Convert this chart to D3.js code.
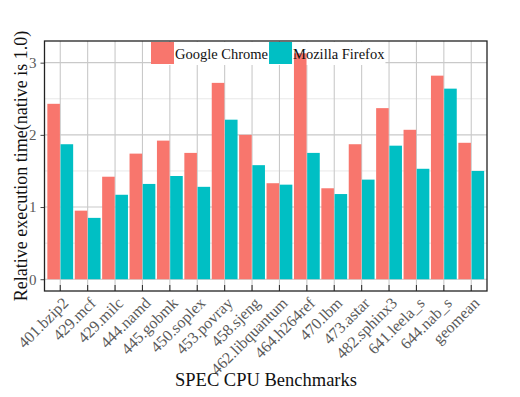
<!DOCTYPE html>
<html>
<head>
<meta charset="utf-8">
<script src="https://cdn.jsdelivr.net/npm/d3@7"></script>
<style>
  body { margin: 0; background: #fff; }
  svg text { font-family: "Liberation Serif", "DejaVu Serif", serif; }
</style>
</head>
<body>
<svg id="chart"></svg>
<script>
// benchmarks on the x axis
var benchmarks = ["401.bzip2", "429.mcf", "429.milc", "444.namd", "445.gobmk", "450.soplex",
  "453.povray", "458.sjeng", "462.libquantum", "464.h264ref", "470.lbm", "473.astar",
  "482.sphinx3", "641.leela_s", "644.nab_s", "geomean"];
var browsers = ["Google Chrome", "Mozilla Firefox"];
var chromeValues = [2.43, 0.95, 1.42, 1.74, 1.92, 1.75, 2.72, 2.00, 1.33, 3.13, 1.26, 1.87, 2.37, 2.07, 2.82, 1.89];
var firefoxValues = [1.87, 0.85, 1.17, 1.32, 1.43, 1.28, 2.21, 1.58, 1.31, 1.75, 1.18, 1.38, 1.85, 1.53, 2.64, 1.50];
var yTicks = [0, 1, 2, 3];
var yMinor = [0.5, 1.5, 2.5];

var colors = ["#F8766D", "#00BFC4"];
var width = 520, height = 397;
// plot frame (don't use "top", it's window.top)
var pLeft = 44.5, pRight = 487, pTop = 41, pBottom = 291;

var svg = d3.select("#chart").attr("width", width).attr("height", height);

var rows = benchmarks.map(function (b, i) {
  return { name: b, vals: [chromeValues[i], firefoxValues[i]] };
});

var x0 = d3.scaleBand().domain(benchmarks).range([pLeft, pRight]).paddingInner(0).paddingOuter(0.075);
var x1 = d3.scaleBand().domain(browsers).range([0, x0.bandwidth()]).paddingInner(0.05).paddingOuter(0.06);
var y = d3.scaleLinear().domain([-0.163, 3.3]).range([pBottom, pTop]);

// grid
svg.append("g").selectAll("line")
  .data(yMinor).enter().append("line")
  .attr("x1", pLeft).attr("x2", pRight)
  .attr("y1", d => y(d)).attr("y2", d => y(d))
  .attr("stroke", "#e8e8e8").attr("stroke-width", 1);

svg.append("g").selectAll("line")
  .data(yTicks).enter().append("line")
  .attr("x1", pLeft).attr("x2", pRight)
  .attr("y1", d => y(d)).attr("y2", d => y(d))
  .attr("stroke", "#c9c9c9").attr("stroke-width", 1.1);

svg.append("g").selectAll("line")
  .data(benchmarks).enter().append("line")
  .attr("x1", d => x0(d) + x0.bandwidth() / 2).attr("x2", d => x0(d) + x0.bandwidth() / 2)
  .attr("y1", pTop).attr("y2", pBottom)
  .attr("stroke", "#c9c9c9").attr("stroke-width", 1.1);

// legend background goes under the bars
var legendBg = svg.append("rect").attr("fill", "#fff");

// bars
var groups = svg.append("g").selectAll("g")
  .data(rows).enter().append("g")
  .attr("transform", d => "translate(" + x0(d.name) + ",0)");

groups.selectAll("rect")
  .data(d => d.vals.map((v, k) => ({ key: browsers[k], value: v, k: k })))
  .enter().append("rect")
  .attr("x", d => x1(d.key))
  .attr("width", x1.bandwidth())
  .attr("y", d => y(d.value))
  .attr("height", d => y(0) - y(d.value))
  .attr("fill", d => colors[d.k]);

// x ticks (inward)
var xAxis = svg.append("g")
  .attr("transform", "translate(0," + pBottom + ")")
  .call(d3.axisBottom(x0).tickSize(-6).tickSizeOuter(0).tickFormat(""));
xAxis.select(".domain").remove();
xAxis.selectAll(".tick line").attr("stroke", "#333").attr("stroke-width", 1.1);

// x tick labels
svg.append("g").selectAll("text")
  .data(benchmarks).enter().append("text")
  .attr("transform", d => "translate(" + (x0(d) + x0.bandwidth() / 2 + 1) + "," + (pBottom + 5) + ") rotate(-45)")
  .attr("text-anchor", "end")
  .attr("dy", "0.72em")
  .attr("font-size", 16)
  .attr("fill", "#5a5a5a")
  .text(d => d);

// y axis
var yAxis = svg.append("g")
  .attr("transform", "translate(" + pLeft + ",0)")
  .call(d3.axisLeft(y).tickValues(yTicks).tickSize(4).tickPadding(4).tickFormat(d3.format("d")));
yAxis.select(".domain").remove();
yAxis.selectAll(".tick line").attr("stroke", "#444");
yAxis.selectAll(".tick text")
  .attr("font-size", 15)
  .attr("fill", "#5a5a5a")
  .style("font-family", "Liberation Serif, serif");

// frame
svg.append("rect")
  .attr("x", pLeft).attr("y", pTop)
  .attr("width", pRight - pLeft).attr("height", pBottom - pTop)
  .attr("fill", "none").attr("stroke", "#222").attr("stroke-width", 1.3);

// legend
var legend = svg.append("g");
var lx = 151, ly = 42, sw = 23, sh = 22;
var cursor = lx;
browsers.forEach(function (b, i) {
  legend.append("rect")
    .attr("x", cursor).attr("y", ly)
    .attr("width", sw).attr("height", sh)
    .attr("fill", colors[i]);
  var t = legend.append("text")
    .attr("x", cursor + sw + 1).attr("y", ly + 16.5)
    .attr("font-size", 14.5)
    .attr("fill", "#111")
    .text(b);
  cursor = cursor + sw + 1 + t.node().getComputedTextLength() + 1;
});
legendBg.attr("x", lx).attr("y", ly).attr("width", cursor - lx).attr("height", sh + 1);

// axis titles
svg.append("text")
  .attr("transform", "translate(27," + ((pTop + pBottom) / 2) + ") rotate(-90)")
  .attr("text-anchor", "middle")
  .attr("font-size", 18)
  .attr("fill", "#111")
  .text("Relative execution time(native is 1.0)");

svg.append("text")
  .attr("x", 266).attr("y", 386)
  .attr("text-anchor", "middle")
  .attr("font-size", 18.5)
  .attr("fill", "#111")
  .text("SPEC CPU Benchmarks");
</script>
</body>
</html>
